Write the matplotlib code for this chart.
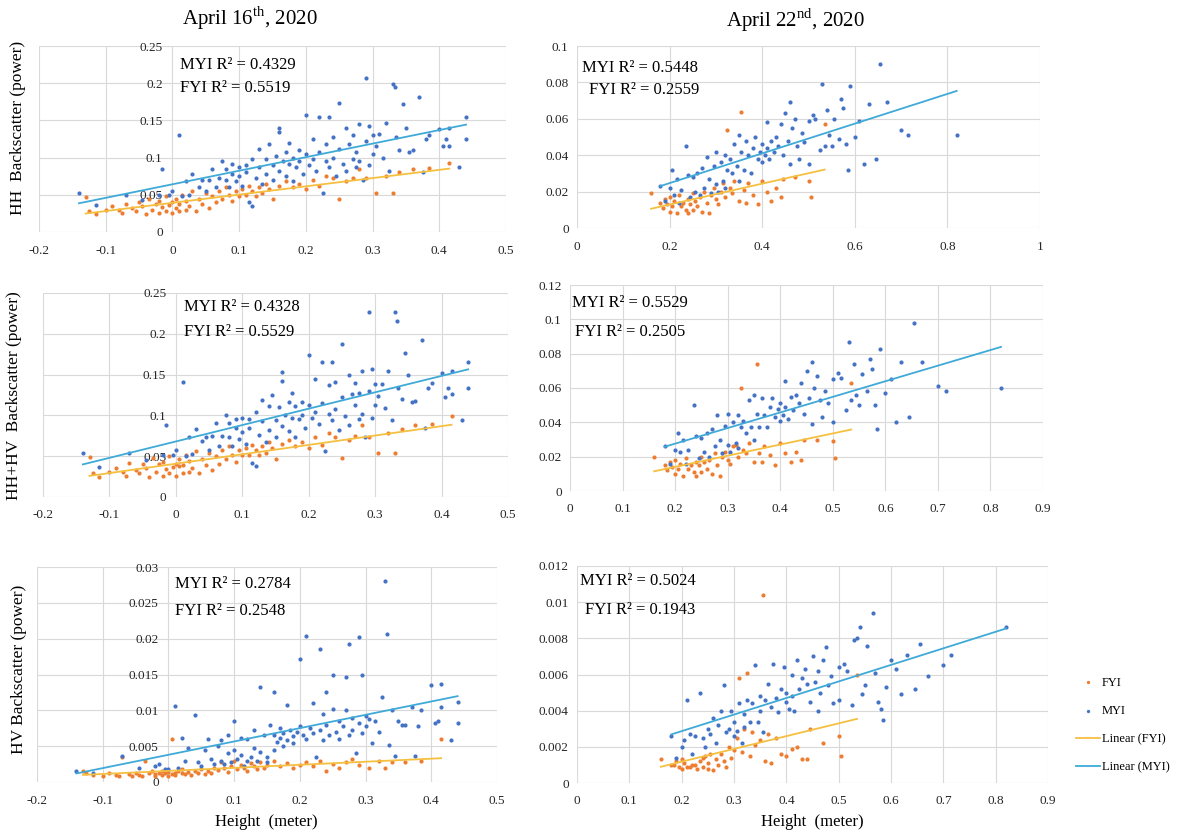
import numpy as np
import matplotlib
matplotlib.use('Agg')
import matplotlib.pyplot as plt
from matplotlib.ticker import MultipleLocator, FuncFormatter

plt.rcParams['font.family'] = ['Liberation Serif', 'DejaVu Serif']
plt.rcParams['mathtext.fontset'] = 'custom'
plt.rcParams['mathtext.rm'] = 'Liberation Serif'

# ---- April 16th, 2020 : MYI samples (height, HH, HV, HH+HV) ----
apr16_myi_height = [
    -0.14, -0.115, -0.07, -0.045, -0.02, -0.015, -0.005, 0.0, 0.01, 0.015,
    0.02, 0.025, 0.03, 0.04, 0.045, 0.05, 0.055, 0.06, 0.065, 0.07,
    0.075, 0.08, 0.08, 0.085, 0.09, 0.09, 0.095, 0.10, 0.10, 0.105,
    0.11, 0.11, 0.115, 0.12, 0.12, 0.125, 0.13, 0.13, 0.135, 0.14,
    0.14, 0.145, 0.15, 0.15, 0.155, 0.16, 0.16, 0.16, 0.165, 0.17,
    0.17, 0.175, 0.175, 0.18, 0.18, 0.185, 0.19, 0.19, 0.195, 0.20,
    0.20, 0.205, 0.21, 0.21, 0.215, 0.22, 0.22, 0.225, 0.23, 0.23,
    0.235, 0.235, 0.24, 0.24, 0.245, 0.25, 0.25, 0.255, 0.26, 0.26,
    0.265, 0.27, 0.27, 0.275, 0.275, 0.28, 0.28, 0.285, 0.29, 0.29,
    0.295, 0.295, 0.30, 0.30, 0.305, 0.31, 0.315, 0.32, 0.325, 0.33,
    0.333, 0.335, 0.34, 0.345, 0.35, 0.355, 0.36, 0.37, 0.375, 0.38,
    0.385, 0.40, 0.405, 0.41, 0.415, 0.415, 0.43, 0.44, 0.44]
apr16_myi_hh = [
    0.052, 0.036, 0.050, 0.043, 0.050, 0.085, 0.050, 0.055, 0.130, 0.048,
    0.068, 0.050, 0.078, 0.060, 0.070, 0.055, 0.070, 0.085, 0.060, 0.072,
    0.095, 0.070, 0.085, 0.060, 0.078, 0.092, 0.068, 0.088, 0.075, 0.062,
    0.090, 0.080, 0.040, 0.035, 0.098, 0.072, 0.112, 0.088, 0.065, 0.098,
    0.078, 0.118, 0.090, 0.070, 0.102, 0.140, 0.135, 0.082, 0.095, 0.108,
    0.075, 0.120, 0.092, 0.100, 0.068, 0.088, 0.110, 0.095, 0.078, 0.157,
    0.105, 0.090, 0.125, 0.098, 0.082, 0.155, 0.108, 0.052, 0.118, 0.095,
    0.155, 0.088, 0.128, 0.100, 0.075, 0.173, 0.112, 0.092, 0.140, 0.082,
    0.118, 0.098, 0.130, 0.108, 0.088, 0.145, 0.095, 0.070, 0.207, 0.122,
    0.142, 0.090, 0.130, 0.105, 0.115, 0.132, 0.100, 0.147, 0.082, 0.199,
    0.195, 0.128, 0.110, 0.172, 0.140, 0.108, 0.110, 0.181, 0.080, 0.125,
    0.130, 0.138, 0.115, 0.125, 0.140, 0.115, 0.088, 0.155, 0.125]
apr16_myi_hv = [
    0.0015, 0.0012, 0.0036, 0.0020, 0.0022, 0.0025, 0.0018, 0.0018, 0.0106, 0.0020,
    0.0062, 0.0030, 0.0048, 0.0093, 0.0028, 0.0022, 0.0045, 0.0060, 0.0032, 0.0025,
    0.0050, 0.0030, 0.0058, 0.0025, 0.0065, 0.0040, 0.0028, 0.0085, 0.0045, 0.0032,
    0.0062, 0.0038, 0.0022, 0.0030, 0.0060, 0.0035, 0.0072, 0.0048, 0.0030, 0.0132,
    0.0042, 0.0065, 0.0035, 0.0028, 0.0080, 0.0125, 0.0066, 0.0045, 0.0056, 0.0075,
    0.0062, 0.0068, 0.0050, 0.0108, 0.0058, 0.0072, 0.0064, 0.0055, 0.0070, 0.0172,
    0.0078, 0.0065, 0.0204, 0.0060, 0.0075, 0.0110, 0.0068, 0.0035, 0.0185, 0.0072,
    0.0095, 0.0058, 0.0125, 0.0080, 0.0065, 0.0150, 0.0102, 0.0070, 0.0085, 0.0060,
    0.0078, 0.0146, 0.0100, 0.0192, 0.0065, 0.0090, 0.0072, 0.0040, 0.0202, 0.0082,
    0.0150, 0.0068, 0.0092, 0.0078, 0.0088, 0.0055, 0.0085, 0.0070, 0.0118, 0.0280,
    0.0207, 0.0052, 0.0100, 0.0036, 0.0085, 0.0080, 0.0080, 0.0105, 0.0036, 0.0078,
    0.0100, 0.0135, 0.0082, 0.0085, 0.0137, 0.0105, 0.0058, 0.0112, 0.0083]
apr16_myi_hhhv = [
    0.054, 0.037, 0.054, 0.045, 0.052, 0.088, 0.052, 0.057, 0.141, 0.050,
    0.074, 0.053, 0.083, 0.069, 0.073, 0.057, 0.075, 0.091, 0.063, 0.075,
    0.100, 0.073, 0.091, 0.063, 0.085, 0.096, 0.071, 0.097, 0.080, 0.065,
    0.096, 0.084, 0.042, 0.038, 0.104, 0.076, 0.119, 0.093, 0.068, 0.111,
    0.082, 0.125, 0.094, 0.073, 0.110, 0.153, 0.142, 0.087, 0.101, 0.116,
    0.081, 0.127, 0.097, 0.111, 0.074, 0.095, 0.116, 0.101, 0.085, 0.174,
    0.113, 0.097, 0.145, 0.104, 0.090, 0.166, 0.115, 0.056, 0.137, 0.102,
    0.165, 0.094, 0.141, 0.108, 0.082, 0.188, 0.122, 0.099, 0.149, 0.088,
    0.126, 0.113, 0.140, 0.127, 0.095, 0.154, 0.102, 0.074, 0.227, 0.130,
    0.157, 0.097, 0.139, 0.113, 0.124, 0.138, 0.109, 0.154, 0.094, 0.227,
    0.216, 0.133, 0.120, 0.176, 0.149, 0.116, 0.118, 0.192, 0.084, 0.133,
    0.140, 0.152, 0.123, 0.134, 0.154, 0.126, 0.094, 0.166, 0.133]

# ---- April 16th, 2020 : FYI samples ----
apr16_fyi_height = [
    -0.13, -0.125, -0.115, -0.10, -0.09, -0.08, -0.075, -0.07, -0.06, -0.055,
    -0.05, -0.045, -0.04, -0.035, -0.03, -0.025, -0.02, -0.02, -0.015, -0.01,
    -0.01, -0.005, 0.0, 0.0, 0.005, 0.005, 0.01, 0.01, 0.015, 0.02,
    0.02, 0.025, 0.03, 0.035, 0.04, 0.045, 0.05, 0.055, 0.06, 0.065,
    0.07, 0.075, 0.08, 0.085, 0.09, 0.095, 0.10, 0.105, 0.11, 0.115,
    0.12, 0.125, 0.13, 0.135, 0.14, 0.145, 0.15, 0.16, 0.17, 0.18,
    0.19, 0.20, 0.21, 0.22, 0.23, 0.24, 0.25, 0.26, 0.27, 0.28,
    0.29, 0.305, 0.32, 0.33, 0.34, 0.36, 0.385, 0.415]
apr16_fyi_hh = [
    0.047, 0.028, 0.024, 0.030, 0.035, 0.030, 0.025, 0.038, 0.032, 0.028,
    0.040, 0.035, 0.024, 0.045, 0.030, 0.038, 0.025, 0.042, 0.033, 0.028,
    0.048, 0.036, 0.025, 0.040, 0.032, 0.045, 0.028, 0.038, 0.050, 0.030,
    0.042, 0.035, 0.055, 0.028, 0.045, 0.038, 0.052, 0.032, 0.048, 0.040,
    0.055, 0.045, 0.060, 0.050, 0.042, 0.055, 0.048, 0.058, 0.050, 0.062,
    0.055, 0.048, 0.060, 0.052, 0.065, 0.058, 0.045, 0.062, 0.068, 0.060,
    0.065, 0.058, 0.070, 0.062, 0.075, 0.072, 0.045, 0.068, 0.072, 0.085,
    0.072, 0.052, 0.075, 0.052, 0.080, 0.085, 0.086, 0.093]
apr16_fyi_hv = [
    0.0015, 0.0012, 0.0010, 0.0008, 0.0012, 0.0010, 0.0009, 0.0035, 0.0011, 0.0008,
    0.0013, 0.0010, 0.0009, 0.0030, 0.0012, 0.0015, 0.0008, 0.0011, 0.0013, 0.0010,
    0.0016, 0.0012, 0.0009, 0.0014, 0.0060, 0.0011, 0.0013, 0.0010, 0.0015, 0.0012,
    0.0018, 0.0011, 0.0014, 0.0010, 0.0016, 0.0012, 0.0018, 0.0011, 0.0015, 0.0013,
    0.0020, 0.0017, 0.0028, 0.0019, 0.0014, 0.0022, 0.0030, 0.0018, 0.0024, 0.0020,
    0.0016, 0.0026, 0.0022, 0.0018, 0.0028, 0.0020, 0.0024, 0.0030, 0.0022, 0.0026,
    0.0019, 0.0024, 0.0028, 0.0022, 0.0030, 0.0016, 0.0025, 0.0019, 0.0028, 0.0032,
    0.0024, 0.0019, 0.0030, 0.0019, 0.0028, 0.0028, 0.0030, 0.0060]
apr16_fyi_hhhv = [
    0.049, 0.029, 0.025, 0.031, 0.036, 0.031, 0.026, 0.042, 0.033, 0.029,
    0.041, 0.036, 0.025, 0.048, 0.031, 0.040, 0.026, 0.043, 0.034, 0.029,
    0.050, 0.037, 0.026, 0.041, 0.038, 0.046, 0.029, 0.039, 0.052, 0.031,
    0.044, 0.036, 0.056, 0.029, 0.047, 0.039, 0.054, 0.033, 0.050, 0.041,
    0.057, 0.047, 0.063, 0.052, 0.043, 0.057, 0.051, 0.060, 0.052, 0.064,
    0.057, 0.051, 0.062, 0.054, 0.068, 0.060, 0.047, 0.065, 0.070, 0.063,
    0.067, 0.060, 0.073, 0.064, 0.078, 0.074, 0.048, 0.070, 0.075, 0.088,
    0.074, 0.054, 0.078, 0.054, 0.083, 0.088, 0.089, 0.099]

# ---- April 22nd, 2020 : MYI samples ----
apr22_myi_height = [
    0.18, 0.19, 0.20, 0.205, 0.21, 0.215, 0.22, 0.225, 0.235, 0.24,
    0.245, 0.25, 0.255, 0.26, 0.265, 0.27, 0.275, 0.28, 0.285, 0.29,
    0.295, 0.30, 0.30, 0.305, 0.31, 0.315, 0.32, 0.32, 0.325, 0.33,
    0.335, 0.34, 0.345, 0.35, 0.35, 0.355, 0.36, 0.365, 0.37, 0.375,
    0.38, 0.385, 0.39, 0.395, 0.40, 0.40, 0.405, 0.41, 0.41, 0.415,
    0.42, 0.425, 0.43, 0.435, 0.44, 0.445, 0.45, 0.455, 0.46, 0.46,
    0.465, 0.47, 0.475, 0.48, 0.485, 0.49, 0.50, 0.50, 0.51, 0.515,
    0.525, 0.53, 0.535, 0.54, 0.545, 0.55, 0.555, 0.565, 0.57, 0.575,
    0.58, 0.585, 0.59, 0.60, 0.61, 0.62, 0.63, 0.645, 0.655, 0.67,
    0.70, 0.715, 0.82]
apr22_myi_hh = [
    0.023, 0.015, 0.022, 0.032, 0.018, 0.027, 0.014, 0.021, 0.045, 0.029,
    0.017, 0.028, 0.020, 0.030, 0.018, 0.033, 0.022, 0.039, 0.027, 0.019,
    0.034, 0.024, 0.042, 0.020, 0.036, 0.026, 0.040, 0.022, 0.032, 0.038,
    0.030, 0.046, 0.034, 0.051, 0.026, 0.042, 0.032, 0.048, 0.040, 0.030,
    0.044, 0.050, 0.038, 0.042, 0.036, 0.046, 0.040, 0.058, 0.044, 0.038,
    0.048, 0.042, 0.050, 0.045, 0.057, 0.040, 0.063, 0.048, 0.069, 0.035,
    0.055, 0.060, 0.045, 0.038, 0.052, 0.047, 0.059, 0.035, 0.062, 0.060,
    0.043, 0.079, 0.045, 0.065, 0.051, 0.045, 0.060, 0.049, 0.071, 0.066,
    0.046, 0.032, 0.078, 0.050, 0.059, 0.035, 0.068, 0.038, 0.090, 0.069,
    0.054, 0.051, 0.051]
apr22_myi_hv = [
    0.0026, 0.0014, 0.0020, 0.0024, 0.0046, 0.0027, 0.0016, 0.0026, 0.0050, 0.0025,
    0.0020, 0.0030, 0.0027, 0.0036, 0.0022, 0.0032, 0.0040, 0.0054, 0.0028, 0.0030,
    0.0040, 0.0034, 0.0026, 0.0029, 0.0044, 0.0022, 0.0038, 0.0031, 0.0046, 0.0034,
    0.0044, 0.0065, 0.0034, 0.0048, 0.0040, 0.0028, 0.0046, 0.0055, 0.0042, 0.0066,
    0.0047, 0.0039, 0.0052, 0.0064, 0.0045, 0.0050, 0.0041, 0.0060, 0.0048, 0.0040,
    0.0068, 0.0052, 0.0058, 0.0063, 0.0055, 0.0045, 0.0070, 0.0056, 0.0062, 0.0040,
    0.0050, 0.0068, 0.0075, 0.0054, 0.0059, 0.0044, 0.0064, 0.0046, 0.0066, 0.0062,
    0.0043, 0.0079, 0.0080, 0.0086, 0.0049, 0.0054, 0.0076, 0.0094, 0.0061, 0.0045,
    0.0041, 0.0035, 0.0053, 0.0068, 0.0063, 0.0049, 0.0071, 0.0052, 0.0077, 0.0059,
    0.0065, 0.0071, 0.0086]
apr22_myi_hhhv = [
    0.026, 0.016, 0.024, 0.034, 0.023, 0.030, 0.016, 0.024, 0.050, 0.032,
    0.019, 0.031, 0.023, 0.034, 0.020, 0.036, 0.026, 0.044, 0.030, 0.022,
    0.038, 0.027, 0.045, 0.023, 0.040, 0.028, 0.044, 0.025, 0.037, 0.041,
    0.034, 0.053, 0.037, 0.056, 0.030, 0.045, 0.037, 0.054, 0.044, 0.037,
    0.049, 0.054, 0.043, 0.048, 0.041, 0.051, 0.044, 0.064, 0.049, 0.042,
    0.055, 0.047, 0.056, 0.051, 0.063, 0.045, 0.070, 0.054, 0.075, 0.039,
    0.060, 0.067, 0.053, 0.043, 0.058, 0.051, 0.065, 0.040, 0.069, 0.066,
    0.047, 0.087, 0.053, 0.074, 0.056, 0.050, 0.068, 0.058, 0.077, 0.071,
    0.050, 0.036, 0.083, 0.057, 0.065, 0.040, 0.075, 0.043, 0.098, 0.075,
    0.061, 0.058, 0.060]

# ---- April 22nd, 2020 : FYI samples ----
apr22_fyi_height = [
    0.16, 0.18, 0.185, 0.19, 0.195, 0.20, 0.20, 0.205, 0.21, 0.215,
    0.22, 0.225, 0.23, 0.235, 0.24, 0.24, 0.245, 0.25, 0.25, 0.255,
    0.26, 0.265, 0.27, 0.275, 0.28, 0.285, 0.29, 0.295, 0.30, 0.305,
    0.31, 0.315, 0.32, 0.325, 0.33, 0.335, 0.34, 0.35, 0.355, 0.36,
    0.365, 0.37, 0.38, 0.39, 0.40, 0.41, 0.42, 0.43, 0.44, 0.445,
    0.47, 0.50, 0.505, 0.535]
apr22_fyi_hh = [
    0.019, 0.014, 0.011, 0.016, 0.013, 0.009, 0.017, 0.012, 0.015, 0.008,
    0.018, 0.012, 0.014, 0.010, 0.016, 0.008, 0.013, 0.019, 0.010, 0.015,
    0.012, 0.017, 0.009, 0.020, 0.014, 0.008, 0.018, 0.022, 0.016, 0.013,
    0.020, 0.025, 0.017, 0.054, 0.022, 0.019, 0.026, 0.015, 0.064, 0.021,
    0.014, 0.025, 0.018, 0.013, 0.026, 0.020, 0.015, 0.022, 0.017, 0.027,
    0.028, 0.026, 0.017, 0.057]
apr22_fyi_hv = [
    0.0013, 0.0010, 0.0010, 0.0012, 0.0009, 0.0008, 0.0013, 0.0011, 0.0009, 0.0009,
    0.0010, 0.0010, 0.0008, 0.0012, 0.0014, 0.0009, 0.0015, 0.0008, 0.0011, 0.0016,
    0.0007, 0.0013, 0.0010, 0.0016, 0.0012, 0.0009, 0.0020, 0.0014, 0.0018, 0.0025,
    0.0058, 0.0017, 0.0030, 0.0061, 0.0015, 0.0028, 0.0021, 0.0024, 0.0104, 0.0012,
    0.0027, 0.0011, 0.0025, 0.0016, 0.0015, 0.0019, 0.0020, 0.0013, 0.0013, 0.0030,
    0.0022, 0.0026, 0.0015, 0.0060]
apr22_fyi_hhhv = [
    0.020, 0.015, 0.012, 0.017, 0.014, 0.010, 0.018, 0.013, 0.016, 0.009,
    0.019, 0.013, 0.015, 0.011, 0.017, 0.009, 0.015, 0.020, 0.011, 0.017,
    0.013, 0.018, 0.010, 0.022, 0.015, 0.009, 0.020, 0.023, 0.018, 0.016,
    0.026, 0.027, 0.020, 0.060, 0.024, 0.022, 0.028, 0.017, 0.074, 0.022,
    0.017, 0.026, 0.021, 0.015, 0.028, 0.022, 0.017, 0.023, 0.018, 0.030,
    0.030, 0.029, 0.019, 0.063]

# R² shown on each panel (HH, HH+HV, HV)
apr16_r2_myi = ['0.4329', '0.4328', '0.2784']
apr16_r2_fyi = ['0.5519', '0.5529', '0.2548']
apr22_r2_myi = ['0.5448', '0.5529', '0.5024']
apr22_r2_fyi = ['0.2559', '0.2505', '0.1943']

row_labels = ['HH  Backscatter (power)', 'HH+HV  Backscatter (power)',
              'HV Backscatter (power)']
legend_labels = ['FYI', 'MYI', 'Linear (FYI)', 'Linear (MYI)']

for arr in [apr16_myi_hh, apr16_myi_hv, apr16_myi_hhhv]:
    assert len(arr) == len(apr16_myi_height)
for arr in [apr16_fyi_hh, apr16_fyi_hv, apr16_fyi_hhhv]:
    assert len(arr) == len(apr16_fyi_height)
for arr in [apr22_myi_hh, apr22_myi_hv, apr22_myi_hhhv]:
    assert len(arr) == len(apr22_myi_height)
for arr in [apr22_fyi_hh, apr22_fyi_hv, apr22_fyi_hhhv]:
    assert len(arr) == len(apr22_fyi_height)

FYI_C = '#ED7D31'
MYI_C = '#4472C4'
FYI_LINE = '#F5C040'
MYI_LINE = '#3FAAD8'
GRID_C = '#D9D9D9'

fmt = FuncFormatter(lambda v, p: '%g' % (round(v, 6) + 0.0))


def draw_panel(ax, xf, yf, xm, ym, xlim, xstep, ylim, ystep, y_at_zero):
    ax.set_axisbelow(True)
    ax.grid(True, color=GRID_C, lw=0.8)
    for s in ax.spines.values():
        s.set_visible(False)
    if y_at_zero:
        ax.spines['left'].set_position(('data', 0))
    pf = ax.scatter(xf, yf, s=9, c=FYI_C, lw=0, zorder=2)
    pm = ax.scatter(xm, ym, s=9, c=MYI_C, lw=0, zorder=2)
    lines = []
    # Excel-style linear trendline over the data range
    for x, y, c in [(xf, yf, FYI_LINE), (xm, ym, MYI_LINE)]:
        x = np.asarray(x)
        coef = np.polyfit(x, np.asarray(y), 1)
        xs = np.array([x.min(), x.max()])
        ln, = ax.plot(xs, np.polyval(coef, xs), color=c, lw=1.3, zorder=3)
        lines.append(ln)
    ax.set_xlim(*xlim)
    ax.set_ylim(*ylim)
    ax.xaxis.set_major_locator(MultipleLocator(xstep))
    ax.yaxis.set_major_locator(MultipleLocator(ystep))
    ax.xaxis.set_major_formatter(fmt)
    ax.yaxis.set_major_formatter(fmt)
    ax.tick_params(length=0, labelsize=9.5, colors='#262626')
    ax.tick_params(axis='x', pad=9)
    ax.tick_params(axis='y', pad=7 if y_at_zero else 6)
    return pf, pm, lines


fig = plt.figure(figsize=(11.81, 8.34), dpi=100)

W, H = 1181.0, 834.0


def rect(x0, y0, x1, y1):
    return [x0 / W, 1 - y1 / H, (x1 - x0) / W, (y1 - y0) / H]


left_rects = [rect(39, 46, 506, 232), rect(43, 293, 508, 497), rect(37, 567, 497, 782)]
right_rects = [rect(577, 46, 1040, 228), rect(570, 285, 1043, 491), rect(577, 566, 1048, 783)]

left_ylims = [(0, 0.25, 0.05), (0, 0.25, 0.05), (0, 0.03, 0.005)]
right_ylims = [(0, 0.1, 0.02), (0, 0.12, 0.02), (0, 0.012, 0.002)]
right_xlims = [(0, 1, 0.2), (0, 0.9, 0.1), (0, 0.9, 0.1)]

apr16_fyi_rows = [apr16_fyi_hh, apr16_fyi_hhhv, apr16_fyi_hv]
apr16_myi_rows = [apr16_myi_hh, apr16_myi_hhhv, apr16_myi_hv]
apr22_fyi_rows = [apr22_fyi_hh, apr22_fyi_hhhv, apr22_fyi_hv]
apr22_myi_rows = [apr22_myi_hh, apr22_myi_hhhv, apr22_myi_hv]

left_txt = [(0.302, 0.898, 0.774), (0.303, 0.931, 0.809), (0.300, 0.921, 0.795)]
right_txt = [(0.011, 0.879, 0.758, 0.026), (0.004, 0.913, 0.772, 0.011),
             (0.006, 0.930, 0.797, 0.017)]
ylab_pos = [(0.015, 0.846), (0.012, 0.526), (0.016, 0.197)]

handles = None
for i in range(3):
    axl = fig.add_axes(left_rects[i])
    y0, y1, ys = left_ylims[i]
    draw_panel(axl, apr16_fyi_height, apr16_fyi_rows[i], apr16_myi_height,
               apr16_myi_rows[i], (-0.2, 0.5), 0.1, (y0, y1), ys, True)
    tx, tym, tyf = left_txt[i]
    axl.text(tx, tym, 'MYI R² = ' + apr16_r2_myi[i], transform=axl.transAxes,
             ha='left', va='center', fontsize=12, zorder=4)
    axl.text(tx, tyf, 'FYI R² = ' + apr16_r2_fyi[i], transform=axl.transAxes,
             ha='left', va='center', fontsize=12, zorder=4)

    axr = fig.add_axes(right_rects[i])
    y0, y1, ys = right_ylims[i]
    x0, x1, xs = right_xlims[i]
    pf, pm, lines = draw_panel(axr, apr22_fyi_height, apr22_fyi_rows[i],
                               apr22_myi_height, apr22_myi_rows[i],
                               (x0, x1), xs, (y0, y1), ys, False)
    txm, tym, tyf, txf = right_txt[i]
    axr.text(txm, tym, 'MYI R² = ' + apr22_r2_myi[i], transform=axr.transAxes,
             ha='left', va='center', fontsize=12, zorder=4)
    axr.text(txf, tyf, 'FYI R² = ' + apr22_r2_fyi[i], transform=axr.transAxes,
             ha='left', va='center', fontsize=12, zorder=4)
    handles = [pf, pm] + lines

    fig.text(ylab_pos[i][0], ylab_pos[i][1], row_labels[i], rotation=90,
             ha='center', va='center', fontsize=12.5)

fig.text(250 / W, 1 - 18 / H, r'April 16$^{\mathrm{th}}$, 2020', ha='center',
         va='center', fontsize=15)
fig.text(795 / W, 1 - 20 / H, r'April 22$^{\mathrm{nd}}$, 2020', ha='center',
         va='center', fontsize=15)
fig.text(266 / W, 1 - 822 / H, 'Height  (meter)', ha='center', va='center', fontsize=12)
fig.text(812 / W, 1 - 822 / H, 'Height  (meter)', ha='center', va='center', fontsize=12)

fig.legend(handles=handles, labels=legend_labels,
           loc='center left', bbox_to_anchor=(1071 / W, 1 - 725 / H), frameon=False,
           fontsize=9, labelspacing=1.3, handlelength=1.9, handletextpad=0.15,
           borderaxespad=0, markerscale=0.8)

fig.savefig('out.png', dpi=100)
